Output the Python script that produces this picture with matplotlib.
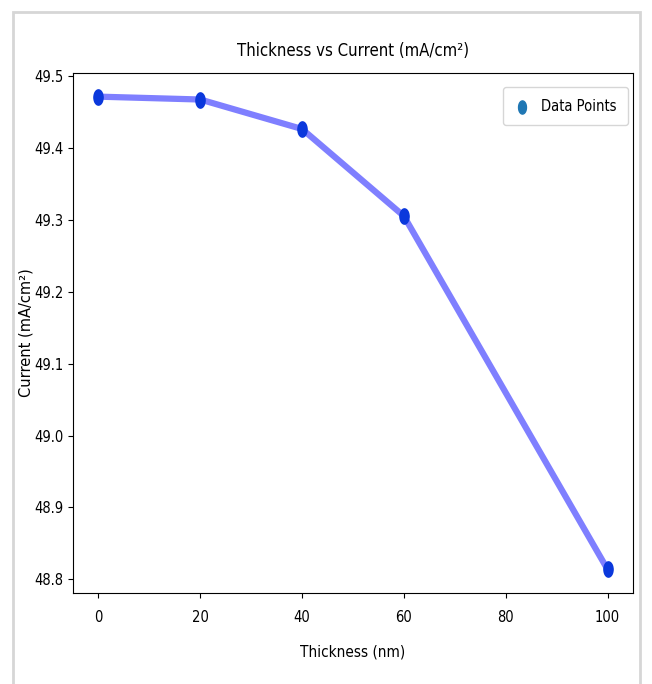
import numpy as np
import matplotlib as mpl
mpl.use('Agg')
import matplotlib.pyplot as plt
from matplotlib.path import Path
from matplotlib.patches import Rectangle

thickness = [0, 20, 40, 60, 100]
current = [49.471, 49.467, 49.426, 49.305, 48.814]

# narrow-looking font, the reference is squeezed sideways
plt.rcParams['font.family'] = ['DejaVu Sans']
plt.rcParams['font.stretch'] = 'condensed'

# vertical ellipse marker
t = np.linspace(0, 2 * np.pi, 40)
ell = Path(np.column_stack([0.6 * np.cos(t), np.sin(t)]), closed=True)

fig = plt.figure(figsize=(6.52, 6.84), dpi=100)
fig.patches.append(Rectangle((13 / 652, -0.02), 627 / 652, 1.02 - 12 / 684,
                             transform=fig.transFigure, fill=False,
                             edgecolor='#d6d6d6', linewidth=2))
ax = fig.add_axes([73 / 652, 1 - 593 / 684, 560 / 652, 520 / 684])

ax.scatter(thickness, current, color='C0', s=90, marker=ell,
           label='Data Points', zorder=1)
ax.plot(thickness, current, color='blue', alpha=0.5, linewidth=4.5, zorder=2)
ax.plot(thickness, current, linestyle='none', marker=ell, markersize=11,
        color='#0b38dc', zorder=3)

ax.set_title('Thickness vs Current (mA/cm²)', fontsize=12, pad=12)
ax.set_xlabel('Thickness (nm)', fontsize=11, labelpad=14)
ax.set_ylabel('Current (mA/cm²)', fontsize=10.5, fontstretch='normal')
ax.yaxis.set_label_coords(-0.07, 0.5)
ax.set_yticks([48.8, 48.9, 49.0, 49.1, 49.2, 49.3, 49.4, 49.5])
ax.tick_params(labelsize=10.5)
ax.tick_params(axis='x', pad=9)
ax.legend(loc='upper right', bbox_to_anchor=(0.991, 0.973), borderaxespad=0,
          fontsize=10.5, borderpad=0.8, handlelength=1.0, handletextpad=0.8)

plt.savefig('out.png', dpi=100)
